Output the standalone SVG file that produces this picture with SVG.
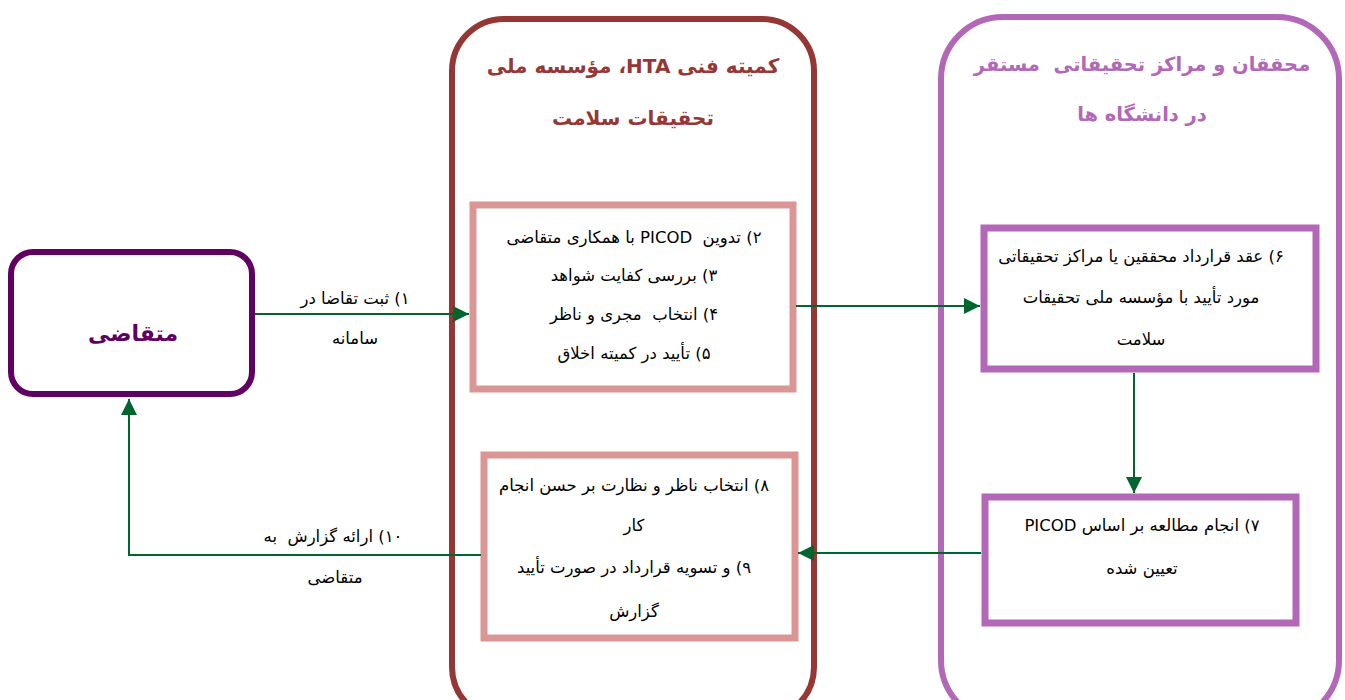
<svg xmlns="http://www.w3.org/2000/svg" width="1345" height="700" viewBox="0 0 1345 700">
<style>
text { font-family: "DejaVu Sans", "Noto Sans", sans-serif; direction: rtl; text-anchor: middle; white-space: pre; }
.body { font-size: 16.5px; fill: #000; }
.title1 { font-size: 20px; font-weight: bold; fill: #953735; }
.title2 { font-size: 19.5px; font-weight: bold; fill: #B267B7; }
.nodeText { font-size: 22px; font-weight: bold; fill: #600060; }
.container1 { fill: none; stroke: #953735; stroke-width: 6; }
.container2 { fill: none; stroke: #B267B7; stroke-width: 6; }
.box1 { fill: #fff; stroke: #D99694; stroke-width: 7; }
.box2 { fill: #fff; stroke: #B267B7; stroke-width: 7; }
.conn { fill: none; stroke: #00652E; stroke-width: 2; }
</style>
<defs>
<marker id="arrow" markerUnits="userSpaceOnUse" markerWidth="16" markerHeight="16" viewBox="0 0 16 16" refX="16" refY="8" orient="auto">
<path d="M0,0 L16,8 L0,16 Z" fill="#00652E"/>
</marker>
</defs>
<rect width="1345" height="700" fill="#fff"/>

<g id="container-hta">
<rect class="container1" x="452" y="19" width="362" height="700" rx="52"/>
<text class="title1" x="633" y="73">کمیته فنی HTA، مؤسسه ملی</text>
<text class="title1" x="633" y="125">تحقیقات سلامت</text>
</g>

<g id="container-researchers">
<rect class="container2" x="941" y="17" width="398" height="705" rx="62"/>
<text class="title2" x="1142" y="71">محققان و مراکز تحقیقاتی  مستقر</text>
<text class="title2" x="1142" y="121">در دانشگاه ها</text>
</g>

<g id="applicant">
<rect x="11" y="252" width="241" height="142" rx="22" fill="#fff" stroke="#600060" stroke-width="6"/>
<text class="nodeText" x="133" y="341">متقاضی</text>
</g>

<g id="step2-5">
<rect class="box1" x="473" y="205" width="320" height="184"/>
<text class="body" x="634" y="243">۲) تدوین  PICOD با همکاری متقاضی</text>
<text class="body" x="634" y="281">۳) بررسی کفایت شواهد</text>
<text class="body" x="634" y="320">۴) انتخاب  مجری و ناظر</text>
<text class="body" x="634" y="359">۵) تأیید در کمیته اخلاق</text>
</g>

<g id="step8-9">
<rect class="box1" x="484" y="455" width="311" height="183"/>
<text class="body" x="634" y="491">۸) انتخاب ناظر و نظارت بر حسن انجام</text>
<text class="body" x="634" y="531">کار</text>
<text class="body" x="634" y="573">۹) و تسویه قرارداد در صورت تأیید</text>
<text class="body" x="634" y="617">گزارش</text>
</g>

<g id="step6">
<rect class="box2" x="984" y="228" width="332" height="141"/>
<text class="body" x="1141" y="262">۶) عقد قرارداد محققین یا مراکز تحقیقاتی</text>
<text class="body" x="1141" y="303">مورد تأیید با مؤسسه ملی تحقیقات</text>
<text class="body" x="1141" y="345">سلامت</text>
</g>

<g id="step7">
<rect class="box2" x="985" y="497" width="311" height="126"/>
<text class="body" x="1142" y="531">۷) انجام مطالعه بر اساس PICOD</text>
<text class="body" x="1142" y="574">تعیین شده</text>
</g>

<g id="connectors">
<line class="conn" x1="255" y1="314" x2="469" y2="314" marker-end="url(#arrow)"/>
<line class="conn" x1="796" y1="306" x2="980" y2="306" marker-end="url(#arrow)"/>
<line class="conn" x1="1134" y1="373" x2="1134" y2="493" marker-end="url(#arrow)"/>
<line class="conn" x1="981" y1="553" x2="798" y2="553" marker-end="url(#arrow)"/>
<polyline class="conn" points="481,555 129,555 129,399" marker-end="url(#arrow)"/>
<text class="body" x="355" y="304">۱) ثبت تقاضا در</text>
<text class="body" x="355" y="344">سامانه</text>
<text class="body" x="333" y="542">۱۰) ارائه گزارش  به</text>
<text class="body" x="335" y="583">متقاضی</text>
</g>
</svg>
